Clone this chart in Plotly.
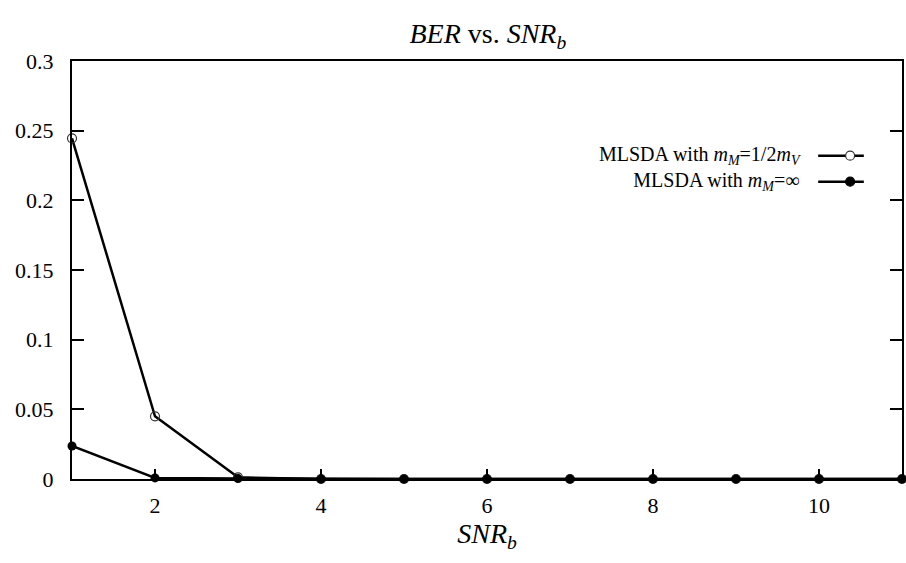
import plotly.graph_objects as go

# SNR per bit values and bit error rates for the two decoder settings
snr_b = [1, 2, 3, 4, 5, 6, 7, 8, 9, 10, 11]
ber_half = [0.2445, 0.0450, 0.0012, 0, 0, 0, 0, 0, 0, 0, 0]
ber_inf = [0.0237, 0.0008, 0.0003, 0, 0, 0, 0, 0, 0, 0, 0]

series_names = [
    "MLSDA with <i>m<sub>M</sub></i>=1/2<i>m<sub>V</sub></i>",
    "MLSDA with <i>m<sub>M</sub></i>=∞",
]
x_ticks = [2, 4, 6, 8, 10]
y_ticks = [0, 0.05, 0.1, 0.15, 0.2, 0.25, 0.3]
y_tick_text = ["0", "0.05", "0.1", "0.15", "0.2", "0.25", "0.3"]

FONT = "Liberation Serif"
BLACK = "#000000"
KEY_FONT = 20

fig = go.Figure()
fig.add_trace(go.Scatter(
    x=snr_b, y=ber_half, mode="lines+markers", name=series_names[0],
    line=dict(color=BLACK, width=2.5),
    marker=dict(symbol="circle-open", size=9, color="#333333", line=dict(width=1.2)),
    cliponaxis=False, showlegend=False,
))
fig.add_trace(go.Scatter(
    x=snr_b, y=ber_inf, mode="lines+markers", name=series_names[1],
    line=dict(color=BLACK, width=2.5),
    marker=dict(symbol="circle", size=9, color=BLACK),
    cliponaxis=False, showlegend=False,
))

# Key in the upper right: a two-line label block, each line followed by
# a line sample with its marker
PLOT_W, PLOT_H = 832, 418
key_center = 0.7425
row_step = 1.3 * KEY_FONT / PLOT_H
fig.add_annotation(
    xref="paper", yref="paper", x=0.881, y=key_center, xanchor="right", yanchor="middle",
    text="<br>".join(series_names), align="right", showarrow=False,
    font=dict(family=FONT, size=KEY_FONT, color=BLACK),
)
key_rows = [(key_center + row_step / 2, True), (key_center - row_step / 2, False)]
for ky, hollow in key_rows:
    fig.add_shape(type="line", xref="paper", yref="paper",
                  x0=0.899, x1=0.954, y0=ky, y1=ky,
                  line=dict(color=BLACK, width=2.5))
    r = 4.5
    fig.add_shape(type="circle", xref="paper", yref="paper",
                  x0=0.9375 - r / PLOT_W, x1=0.9375 + r / PLOT_W,
                  y0=ky - r / PLOT_H, y1=ky + r / PLOT_H,
                  fillcolor="white" if hollow else BLACK,
                  line=dict(color="#333333" if hollow else BLACK, width=1.2))

fig.update_layout(
    width=906, height=563,
    margin=dict(l=72, r=2, t=61, b=84),
    paper_bgcolor="white", plot_bgcolor="white",
    font=dict(family=FONT, size=22, color=BLACK),
    title=dict(
        text="<i>BER</i> vs. <i>SNR<sub>b</sub></i>",
        x=0.5385, xanchor="center", y=0.941, yanchor="middle",
        font=dict(family=FONT, size=28, color=BLACK),
    ),
    xaxis=dict(
        range=[1, 11], tickvals=x_ticks, ticks="inside", ticklen=10, tickwidth=2,
        tickcolor=BLACK, showline=True, linecolor=BLACK, linewidth=2, mirror=True,
        showgrid=False, zeroline=False, ticklabelstandoff=6,
        title=dict(text="<i>SNR<sub>b</sub></i>", font=dict(family=FONT, size=28), standoff=4),
    ),
    yaxis=dict(
        range=[0, 0.3], tickvals=y_ticks, ticktext=y_tick_text, ticks="inside",
        ticklen=12, tickwidth=2, tickcolor=BLACK, showline=True, linecolor=BLACK,
        linewidth=2, mirror="ticks", showgrid=False, zeroline=False,
        ticklabelstandoff=12,
    ),
)

fig.write_html("out.html")
